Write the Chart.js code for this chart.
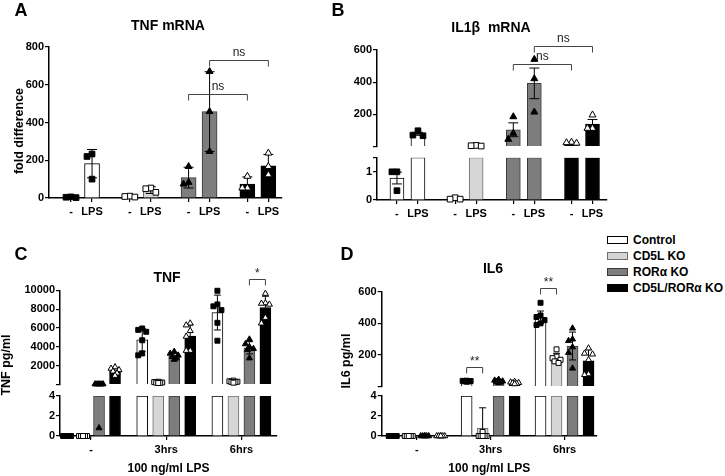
<!DOCTYPE html>
<html>
<head>
<meta charset="utf-8">
<script src="https://cdn.jsdelivr.net/npm/chart.js@4.4.1/dist/chart.umd.min.js"></script>
<style>
  body { margin: 0; width: 725px; height: 476px; position: relative; overflow: hidden; background: #fff;
         font-family: 'Liberation Sans', Arial, sans-serif; color: #000; }
  .panel { position: absolute; }
  .txt { position: absolute; font-weight: bold; white-space: pre; transform: translate(-50%, -50%); }
  .letter { font-size: 18px; }
  .ttl { font-size: 14px; }
  #legend { position: absolute; left: 607px; top: 232px; font-weight: bold; font-size: 12px; }
  #legend div { height: 16px; display: flex; align-items: center; }
  #legend i { display: inline-block; width: 19px; height: 6px; margin-right: 5px; border: 1px solid; }
</style>
</head>
<body>
<div class="panel" id="pA"><canvas></canvas></div>
<div class="panel" id="pB"><canvas></canvas></div>
<div class="panel" id="pC"><canvas></canvas></div>
<div class="panel" id="pD"><canvas></canvas></div>

<div class="txt letter" style="left:21px;top:10px">A</div>
<div class="txt letter" style="left:338px;top:10px">B</div>
<div class="txt letter" style="left:21px;top:254px">C</div>
<div class="txt letter" style="left:347px;top:254px">D</div>
<div class="txt ttl" style="left:168px;top:25px">TNF mRNA</div>
<div class="txt ttl" style="left:491px;top:27px">IL1β  mRNA</div>
<div class="txt ttl" style="left:167px;top:277px">TNF</div>
<div class="txt ttl" style="left:493px;top:268px">IL6</div>
<div id="legend"></div>

<script>
// genotypes and their look
const genotypes = ['Control', 'CD5L KO', 'RORα KO', 'CD5L/RORα KO'];
const fills = ['#ffffff', '#d6d6d6', '#7d7d7d', '#000000'];
const edges = ['#000000', '#6e6e6e', '#3a3a3a', '#000000'];
const ptShape = ['rect', 'rect', 'triangle', 'triangle'];
const ptFill = ['#000000', '#ffffff', '#000000', '#ffffff'];

// A / B order: Ctrl -, Ctrl LPS, CD5L -, CD5L LPS, RORa -, RORa LPS, DKO -, DKO LPS
const mrnaTicks = ['-', 'LPS'];
const tnfMrnaMean = [4, 182, 8, 42, 108, 458, 74, 171];
const tnfMrnaErr = [3, 75, 4, 18, 55, 211, 38, 60];
const tnfMrnaPts = [[6, 4, 2], [233, 220, 100], [10, 8, 5], [53, 49, 30], [167, 83, 74],
  [670, 458, 247], [115, 53, 53], [238, 167, 123]];
const tnfMrnaSig = [{from: 5, to: 7, y: 730, text: 'ns'}, {from: 4, to: 6, y: 550, text: 'ns'}];

const il1bMean = [0.78, 80, 0.05, 6, 105, 393, 25, 141];
const il1bErr = [0.21, 9, 0.03, 1.5, 43, 95, 2, 28];
const il1bPts = [[1.0, 1.0, 0.33], [99, 72, 68], [0.08, 0.03, 0.03], [8, 6, 4], [186, 83, 46],
  [542, 422, 215], [28, 25, 22], [197, 114, 114]];
const il1bSig = [{from: 5, to: 7, y: 627, text: 'ns'}, {from: 4, to: 6, y: 513, text: 'ns'}];

// C / D order: (-, 3hrs, 6hrs) x (Control, CD5L KO, RORa KO, DKO)
const timeTicks = ['-', '3hrs', '6hrs'];
const tnfMean = [0, 0, 37, 1440, 4740, 220, 3050, 5130, 7640, 300, 3900, 8170];
const tnfErr = [0, 0, 16, 300, 1200, 50, 300, 1200, 1850, 80, 650, 1200];
const tnfPts = [
  [0, 0, 0, 0, 0, 0], [0, 0, 0, 0, 0, 0], [50, 45, 45, 40, 40, 0.8], [1850, 1700, 1550, 1400, 1200, 950],
  [5950, 5800, 5600, 4700, 3300, 3100], [300, 260, 220, 200, 180, 160], [3500, 3300, 3100, 2950, 2800, 2650], [6500, 6300, 5700, 5100, 3600, 3600],
  [9950, 8500, 8300, 7900, 6550, 4650], [420, 350, 300, 280, 250, 200], [4800, 4300, 4000, 3800, 3700, 2800], [9650, 8650, 8600, 8500, 7100, 6500]
];
const tnfSig = [{from: 10, to: 11, y: 11160, text: '*'}];

const il6Mean = [0, 0, 0, 0, 35, 0.77, 34, 24, 438, 181, 257, 164];
const il6Err = [0, 0, 0, 0, 3, 2.05, 7, 6, 40, 30, 88, 70];
const il6Pts = [
  [0, 0, 0, 0, 0, 0], [0, 0, 0, 0, 0, 0], [0, 0, 0, 0, 0, 0], [0, 0, 0, 0, 0, 0],
  [38, 37, 36, 34, 33, 32], [0.4, 0, 0, 0, 0, 0], [45, 40, 35, 32, 28, 24], [32, 28, 25, 22, 20, 17],
  [530, 450, 440, 420, 400, 390], [236, 190, 180, 170, 160, 150], [369, 300, 290, 250, 215, 116], [243, 210, 205, 170, 80, 75]
];
const il6Sig = [{from: 4, to: 5, y: 126, text: '**'}, {from: 8, to: 9, y: 621, text: '**'}];

Chart.defaults.font.family = "'Liberation Sans', Arial, sans-serif";
Chart.defaults.font.weight = 'bold';
Chart.defaults.color = '#000';

// legend
document.getElementById('legend').innerHTML = genotypes.map((g, i) =>
  `<div><i style="background:${fills[i]};border-color:${edges[i]}"></i>${g}</div>`).join('');

// place points side by side only when they would overlap
function jitter(vals, tol) {
  const placed = [];
  return vals.map(v => {
    const near = placed.filter(p => Math.abs(p.v - v) < tol(v));
    const slot = [0, -1, 1, -0.5, 0.5].find(c => !near.some(p => p.c === c));
    const c = slot === undefined ? 0 : slot;
    placed.push({v, c});
    return c;
  });
}

function buildPanel(s) {
  const wrap = document.getElementById(s.id);
  const [L, T, W, H] = s.box;
  wrap.style.cssText = `left:${L}px;top:${T}px;width:${W}px;height:${H}px`;
  const cv = wrap.querySelector('canvas');
  cv.width = W; cv.height = H;

  const broken = !!s.low;
  const lowMax = broken ? s.low.max : Infinity;
  const isHigh = v => !broken || v > lowMax;
  const xs = s.mean.map((_, i) => Math.floor(i / s.perGroup) * s.groupStep + (i % s.perGroup));
  const geno = s.mean.map((_, i) => s.genoOf(i));
  const tol = v => isHigh(v) ? s.high.max / s.high.px * 7 : s.low.max / s.low.px * 7;

  const barStyle = {
    type: 'bar', borderWidth: 1, barThickness: s.barW, grouped: false, order: 1,
    backgroundColor: geno.map(g => fills[g]), borderColor: geno.map(g => edges[g])
  };
  const datasets = [{
    ...barStyle, yAxisID: 'y',
    data: xs.map((x, i) => ({x, y: isHigh(s.mean[i]) ? s.mean[i] : null}))
  }];
  if (broken) {
    datasets.push({...barStyle, yAxisID: 'yLow', data: xs.map((x, i) => ({x, y: Math.min(s.mean[i], lowMax)}))});
  }

  const hiPts = [], loPts = [];
  s.pts.forEach((vals, i) => {
    const off = jitter(vals, tol);
    vals.forEach((v, k) => {
      const p = {x: xs[i] + off[k] * s.jit, y: v, g: geno[i]};
      (isHigh(v) ? hiPts : loPts).push(p);
    });
  });
  const ptStyle = {
    type: 'scatter', order: 0, clip: false, pointRadius: s.ptR, borderWidth: 1, borderColor: '#000',
    pointStyle: c => c.raw ? ptShape[c.raw.g] : 'circle',
    backgroundColor: c => c.raw ? ptFill[c.raw.g] : '#000'
  };
  datasets.push({...ptStyle, yAxisID: 'y', data: hiPts});
  if (broken) datasets.push({...ptStyle, yAxisID: 'yLow', data: loPts});

  const yTickFont = {size: 11, weight: 'bold'};
  const yAxis = (cfg) => {
    const ax = {
      type: 'linear', position: 'left', min: 0, max: cfg.max,
      border: {color: '#000', width: 1.5},
      grid: {drawOnChartArea: false, color: '#000', tickLength: 4, lineWidth: 1.2},
      ticks: {padding: 1, autoSkip: false, font: yTickFont, callback: v => cfg.blank.includes(v) ? '' : String(v)},
      afterBuildTicks: sc => { sc.ticks = cfg.ticks.map(v => ({value: v})); },
      afterFit: sc => { sc.width = s.yW; }
    };
    if (broken) { ax.stack = 'left'; ax.stackWeight = cfg.px; }
    return ax;
  };

  const xTickPos = s.xTicks.pos(xs);
  const scales = {};
  if (broken) {
    scales.yLow = yAxis(s.low);
    scales.yGap = {
      type: 'linear', position: 'left', stack: 'left', stackWeight: s.gapPx, min: 0, max: 1, display: true,
      border: {display: false}, grid: {display: false}, ticks: {display: false},
      afterFit: sc => { sc.width = s.yW; }
    };
  }
  scales.y = yAxis(s.high);
  scales.x = {
    type: 'linear', min: s.xMin, max: s.xMax, offset: false,
    border: {color: '#000', width: 1.5},
    grid: {drawOnChartArea: false, color: '#000', tickLength: 4, offset: false, lineWidth: 1.2},
    ticks: {padding: 3, autoSkip: false, maxRotation: 0, font: {size: s.xFont, weight: 'bold'},
      callback: (v, i) => s.xTicks.labels[i % s.xTicks.labels.length]},
    afterBuildTicks: sc => { sc.ticks = xTickPos.map(v => ({value: v})); },
    afterFit: sc => { sc.height = s.xH; },
    title: s.xTitle ? {display: true, text: s.xTitle, font: {size: 12, weight: 'bold'}, padding: {top: 0, bottom: 0}}
                    : {display: false}
  };

  const yPix = (chart, v) => isHigh(v) ? chart.scales.y.getPixelForValue(v) : chart.scales.yLow.getPixelForValue(v);

  const errorBars = {
    id: 'errorBars',
    afterDatasetDraw(chart, args) {
      if (args.index !== 0) return;
      const ctx = chart.ctx;
      ctx.save();
      ctx.strokeStyle = '#000';
      ctx.lineWidth = 1;
      s.mean.forEach((m, i) => {
        const e = s.err[i];
        if (!e) return;
        const sc = isHigh(m) ? chart.scales.y : chart.scales.yLow;
        const lo = Math.max(m - e, sc.min), hi = Math.min(m + e, sc.max * 1.2);
        const x = chart.scales.x.getPixelForValue(xs[i]);
        const y1 = sc.getPixelForValue(hi), y2 = sc.getPixelForValue(lo);
        ctx.beginPath();
        ctx.moveTo(x, y1); ctx.lineTo(x, y2);
        ctx.moveTo(x - s.capW, y1); ctx.lineTo(x + s.capW, y1);
        if (m - e > sc.min) { ctx.moveTo(x - s.capW, y2); ctx.lineTo(x + s.capW, y2); }
        ctx.stroke();
      });
      ctx.restore();
    }
  };

  const notes = {
    id: 'notes',
    afterDraw(chart) {
      const ctx = chart.ctx;
      ctx.save();
      ctx.strokeStyle = '#444';
      ctx.lineWidth = 1;
      ctx.fillStyle = '#222';
      ctx.textAlign = 'center';
      ctx.textBaseline = 'bottom';
      ctx.font = "12px 'Liberation Sans', Arial, sans-serif";
      s.brackets.forEach(b => {
        const x1 = chart.scales.x.getPixelForValue(xs[b.from]);
        const x2 = chart.scales.x.getPixelForValue(xs[b.to]);
        const y = Math.round(yPix(chart, b.y)) + 0.5;
        ctx.beginPath();
        ctx.moveTo(x1, y + 6); ctx.lineTo(x1, y); ctx.lineTo(x2, y); ctx.lineTo(x2, y + 6);
        ctx.stroke();
        ctx.fillText(b.text, (x1 + x2) / 2, y - (b.text === 'ns' ? 2 : 0));
      });
      if (s.yTitle) {
        ctx.fillStyle = '#000';
        ctx.font = "bold 12.5px 'Liberation Sans', Arial, sans-serif";
        ctx.textBaseline = 'middle';
        ctx.translate(s.yTitle.x, s.yTitle.y);
        ctx.rotate(-Math.PI / 2);
        ctx.fillText(s.yTitle.text, 0, 0);
      }
      ctx.restore();
    }
  };

  new Chart(cv, {
    type: 'bar',
    data: {datasets},
    options: {
      responsive: false, animation: false, devicePixelRatio: 1, events: [],
      layout: {padding: {left: 0, top: s.padT, right: s.padR, bottom: s.padB}},
      plugins: {legend: {display: false}, tooltip: {enabled: false}},
      scales
    },
    plugins: [errorBars, notes]
  });
}

const pairTicks = {pos: xs => xs, labels: mrnaTicks};
const groupTicks = step => ({pos: () => timeTicks.map((_, g) => g * step + 1.5), labels: timeTicks});

buildPanel({
  id: 'pA', box: [0, 0, 300, 230], yW: 49, padT: 47, padR: 18, padB: 2, xH: 30,
  xMin: -1.05, xMax: 10.05, groupStep: 2.8, perGroup: 2, genoOf: i => Math.floor(i / 2),
  barW: 15, ptR: 4, jit: 0.24, capW: 5, xFont: 11, xTicks: pairTicks,
  mean: tnfMrnaMean, err: tnfMrnaErr, pts: tnfMrnaPts, brackets: tnfMrnaSig,
  high: {max: 800, ticks: [0, 200, 400, 600, 800], blank: [], px: 151},
  yTitle: {text: 'fold difference', x: 20, y: 131}
});

buildPanel({
  id: 'pB', box: [300, 0, 320, 230], yW: 77, padT: 50, padR: 13, padB: 2, xH: 28,
  xMin: -0.95, xMax: 10.0, groupStep: 2.77, perGroup: 2, genoOf: i => Math.floor(i / 2),
  barW: 14, ptR: 4, jit: 0.24, capW: 5, xFont: 11, xTicks: pairTicks,
  mean: il1bMean, err: il1bErr, pts: il1bPts, brackets: il1bSig,
  high: {max: 600, ticks: [0, 200, 400, 600], blank: [0], px: 96.7},
  gapPx: 11,
  low: {max: 1.5, ticks: [0, 1, 1.5], blank: [1.5], px: 42.3}
});

buildPanel({
  id: 'pC', box: [0, 230, 320, 246], yW: 60, padT: 60.3, padR: 43, padB: 0, xH: 40,
  xMin: -0.44, xMax: 13.125, groupStep: 4.7, perGroup: 4, genoOf: i => i % 4,
  barW: 11, ptR: 3.5, jit: 0.25, capW: 3.5, xFont: 11, xTicks: groupTicks(4.7),
  mean: tnfMean, err: tnfErr, pts: tnfPts, brackets: tnfSig,
  high: {max: 10000, ticks: [0, 2000, 4000, 6000, 8000, 10000], blank: [0], px: 94.3},
  gapPx: 11.5,
  low: {max: 4, ticks: [0, 2, 4], blank: [], px: 40},
  yTitle: {text: 'TNF pg/ml', x: 7, y: 135},
  xTitle: '100 ng/ml LPS'
});

buildPanel({
  id: 'pD', box: [320, 230, 285, 246], yW: 61.7, padT: 61.7, padR: 8, padB: 0, xH: 40,
  xMin: -0.69, xMax: 12.77, groupStep: 4.62, perGroup: 4, genoOf: i => i % 4,
  barW: 11, ptR: 3.5, jit: 0.25, capW: 3.5, xFont: 11, xTicks: groupTicks(4.62),
  mean: il6Mean, err: il6Err, pts: il6Pts, brackets: il6Sig,
  high: {max: 600, ticks: [0, 200, 400, 600], blank: [0], px: 95},
  gapPx: 9.3,
  low: {max: 4, ticks: [0, 2, 4], blank: [], px: 40},
  yTitle: {text: 'IL6 pg/ml', x: 27, y: 131},
  xTitle: '100 ng/ml LPS'
});
</script>
</body>
</html>
